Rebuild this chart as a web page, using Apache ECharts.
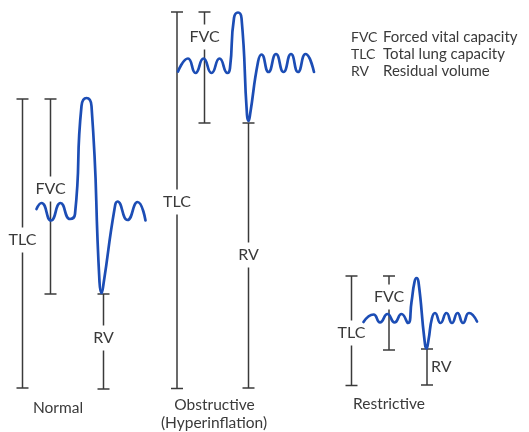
<!DOCTYPE html>
<html>
<head>
<meta charset="utf-8">
<script src="https://cdn.jsdelivr.net/npm/echarts@6/dist/echarts.min.js"></script>
<style>
  html, body { margin: 0; padding: 0; background: #fff; }
  #chart { width: 529px; height: 432px; }
</style>
</head>
<body>
<div id="chart"></div>
<script>
// wave traces (x, volume-level)
const normalX = [36.5, 41.5, 51, 60.5, 70, 75, 81.5, 86.5, 91.5, 99.5, 101.5, 103.5, 114.5, 117.5, 127.5, 137.5, 145.5];
const normalY = [209, 203, 220.5, 203, 219, 214, 106, 98, 106, 282, 293, 284, 209, 201.5, 220, 202, 220.5];

const obstrX = [178, 188, 195.5, 203.5, 211.5, 219.5, 227.5, 230, 234, 238, 241.5, 247, 248.5, 250, 258, 261.5, 268.5, 276, 283.5, 291, 298, 305.5, 314];
const obstrY = [71.5, 58.5, 73, 58.5, 73, 58.5, 73, 68, 18, 12.5, 18, 115, 121, 115, 62, 54.5, 72, 54, 72, 54, 72, 54, 72];

const restrX = [363.5, 373.5, 380, 387.5, 394.5, 401.5, 408, 411.5, 414.5, 416.5, 418.5, 424.5, 426.5, 428.5, 432, 435, 440.5, 446.5, 452, 457.5, 463, 469, 477];
const restrY = [322, 314.5, 322.5, 314, 322.5, 314, 323, 302, 282, 278, 282, 340, 348.5, 340, 318, 313, 323, 313, 323, 313, 323, 313, 321.5];

// brackets: name, x, top, bottom, label level, label side
const bracketNames = ['TLC', 'FVC', 'RV', 'TLC', 'FVC', 'RV', 'TLC', 'FVC', 'RV'];
const bracketX = [22.5, 50.5, 103.5, 177, 204.5, 248.5, 351.5, 389, 427];
const bracketTop = [99, 99, 294, 12, 12, 123, 276, 276, 349];
const bracketBottom = [388, 294, 389, 388.5, 123, 388, 385.5, 350, 385];
const bracketLabelY = [240, 189, 338, 202, 37, 255, 333, 297, 367];
const bracketSide = ['mid', 'mid', 'mid', 'mid', 'mid', 'mid', 'mid', 'mid', 'right'];

// panel captions
const panelNames = ['Normal', 'Obstructive', '(Hyperinflation)', 'Restrictive'];
const panelX = [58, 214.5, 214, 389];
const panelY = [408, 405, 423, 404];

// key
const keyAbbr = ['FVC', 'TLC', 'RV'];
const keyText = ['Forced vital capacity', 'Total lung capacity', 'Residual volume'];

const INK = '#3a3a3a';
const BLUE = '#1c4db5';
const FONT = 'Lato, "Open Sans", sans-serif';

const zip = (xs, ys) => xs.map((x, i) => [x, ys[i]]);

const waveSeries = (name, xs, ys) => ({
    name: name,
    type: 'line',
    data: zip(xs, ys),
    smooth: 0.55,
    showSymbol: false,
    z: 5,
    lineStyle: { color: BLUE, width: 2.7, cap: 'round', join: 'round' },
    silent: true
});

const dom = document.getElementById('chart');
const myChart = echarts.init(dom, null, { renderer: 'canvas' });

const graphic = [];
panelNames.forEach((t, i) => {
    graphic.push({
        type: 'text', x: panelX[i], y: panelY[i],
        style: { text: t, fill: INK, font: '15.5px ' + FONT, align: 'center', verticalAlign: 'middle' }
    });
});
keyAbbr.forEach((t, i) => {
    graphic.push({
        type: 'text', x: 351, y: 37 + i * 17,
        style: { text: t, fill: INK, font: '14px ' + FONT, align: 'left', verticalAlign: 'middle' }
    });
    graphic.push({
        type: 'text', x: 383, y: 37 + i * 17,
        style: { text: keyText[i], fill: INK, font: '15px ' + FONT, align: 'left', verticalAlign: 'middle' }
    });
});

const option = {
    backgroundColor: '#fff',
    animation: false,
    grid: { left: 0, right: 0, top: 0, bottom: 0 },
    xAxis: { type: 'value', min: 0, max: 529, show: false },
    yAxis: { type: 'value', min: 0, max: 432, inverse: true, show: false },
    graphic: graphic,
    series: [
        {
            type: 'custom',
            z: 2,
            silent: true,
            data: bracketX.map((x, i) => [x, bracketTop[i], bracketBottom[i], bracketLabelY[i]]),
            renderItem: function (params, api) {
                const i = params.dataIndex;
                const top = api.coord([api.value(0), api.value(1)]);
                const bot = api.coord([api.value(0), api.value(2)]);
                const lab = api.coord([api.value(0), api.value(3)]);
                const cx = top[0];
                const st = { stroke: INK, lineWidth: 1.5 };
                const kids = [
                    { type: 'line', shape: { x1: cx - 6, y1: top[1], x2: cx + 6, y2: top[1] }, style: st },
                    { type: 'line', shape: { x1: cx - 6, y1: bot[1], x2: cx + 6, y2: bot[1] }, style: st }
                ];
                const font = '16px ' + FONT;
                if (bracketSide[i] === 'mid') {
                    kids.push({ type: 'line', shape: { x1: cx, y1: top[1], x2: cx, y2: lab[1] - 12.5 }, style: st });
                    kids.push({ type: 'line', shape: { x1: cx, y1: lab[1] + 12.5, x2: cx, y2: bot[1] }, style: st });
                    kids.push({ type: 'text', x: cx, y: lab[1], style: { text: bracketNames[i], fill: INK, font: font, align: 'center', verticalAlign: 'middle' } });
                } else {
                    kids.push({ type: 'line', shape: { x1: cx, y1: top[1], x2: cx, y2: bot[1] }, style: st });
                    kids.push({ type: 'text', x: cx + 4, y: lab[1], style: { text: bracketNames[i], fill: INK, font: font, align: 'left', verticalAlign: 'middle' } });
                }
                return { type: 'group', children: kids };
            }
        },
        waveSeries('Normal', normalX, normalY),
        waveSeries('Obstructive', obstrX, obstrY),
        waveSeries('Restrictive', restrX, restrY)
    ]
};
myChart.setOption(option);
window.addEventListener('resize', () => myChart.resize());
</script>
</body>
</html>
